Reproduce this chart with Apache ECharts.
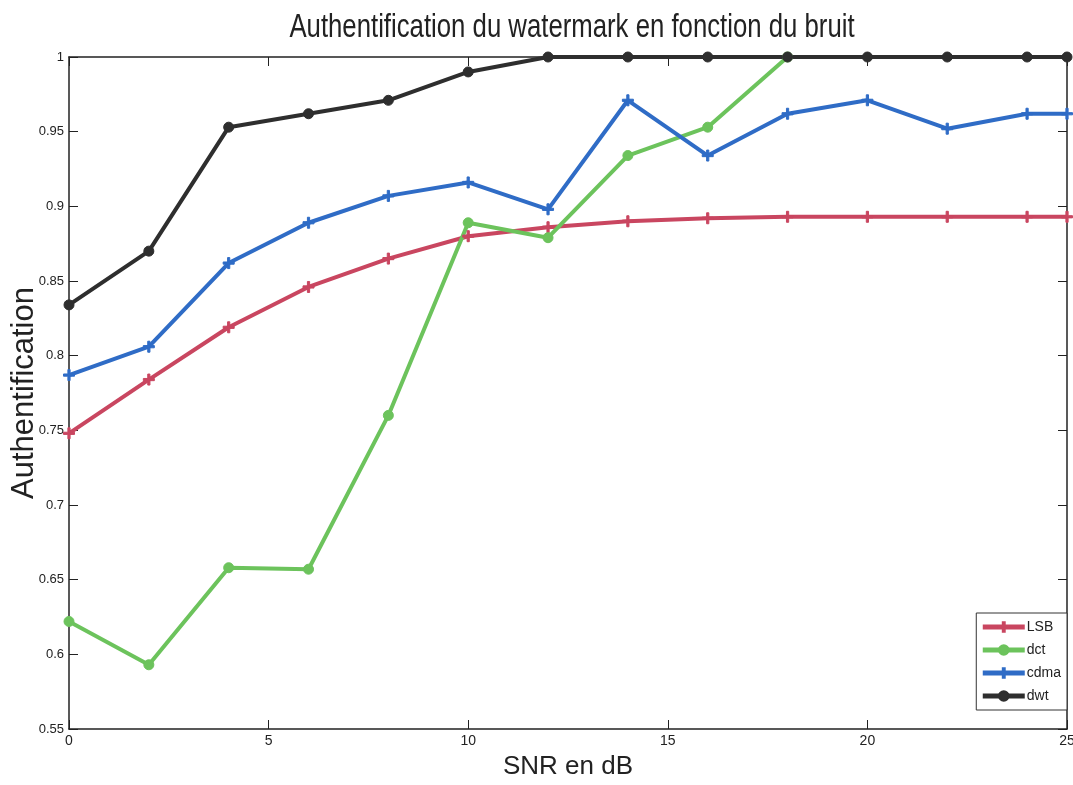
<!DOCTYPE html>
<html>
<head>
<meta charset="utf-8">
<title>Authentification du watermark en fonction du bruit</title>
<script src="https://cdn.jsdelivr.net/npm/echarts@6/dist/echarts.min.js"></script>
<style>
  html, body { margin: 0; padding: 0; background: #ffffff; }
  #chart { width: 1073px; height: 785px; }
</style>
</head>
<body>
<div id="chart"></div>
<script>
// SNR values (dB) at which each method was evaluated
const snr = [0, 2, 4, 6, 8, 10, 12, 14, 16, 18, 20, 22, 24, 25];

// Authentication rate per watermarking method
const lsb  = [0.748, 0.784, 0.819, 0.846, 0.865, 0.880, 0.886, 0.890, 0.892, 0.893, 0.893, 0.893, 0.893, 0.893];
const dct  = [0.622, 0.593, 0.658, 0.657, 0.760, 0.889, 0.879, 0.934, 0.953, 1.000];
const cdma = [0.787, 0.806, 0.862, 0.889, 0.907, 0.916, 0.898, 0.971, 0.934, 0.962, 0.971, 0.952, 0.962, 0.962];
const dwt  = [0.834, 0.870, 0.953, 0.962, 0.971, 0.990, 1.000, 1.000, 1.000, 1.000, 1.000, 1.000, 1.000, 1.000];

const seriesNames = ['LSB', 'dct', 'cdma', 'dwt'];
const xTicks = [0, 5, 10, 15, 20, 25];
const chartTitle = 'Authentification du watermark en fonction du bruit';

const pairs = (vals) => vals.map((v, i) => [snr[i], v]);

const plus = 'path://M4,0 L6,0 L6,4 L10,4 L10,6 L6,6 L6,10 L4,10 L4,6 L0,6 L0,4 L4,4 Z';
const sans = '"Liberation Sans", Arial, sans-serif';
const axisColor = '#222222';

const chart = echarts.init(document.getElementById('chart'), null, { renderer: 'canvas' });

function lineSeries(name, vals, color, symbol, size, width) {
  return {
    name: name,
    type: 'line',
    data: pairs(vals),
    symbol: symbol,
    symbolSize: size,
    clip: true,
    lineStyle: { color: color, width: width },
    itemStyle: { color: color, borderColor: color, borderWidth: 1 },
    emphasis: { disabled: true },
    z: 3
  };
}

const option = {
  backgroundColor: '#ffffff',
  animation: false,
  // condensed title drawn as a horizontally scaled text element
  graphic: [
    {
      type: 'text',
      x: 572,
      y: 28,
      scaleX: 0.78,
      style: {
        text: chartTitle,
        font: '33px "Liberation Sans", Arial, sans-serif',
        fill: '#222',
        textAlign: 'center',
        textVerticalAlign: 'middle'
      }
    }
  ],
  legend: {
    data: seriesNames,
    orient: 'vertical',
    right: 6,
    top: 613,
    padding: [7, 6, 7, 4],
    itemGap: 9,
    itemWidth: 42,
    itemHeight: 12,
    backgroundColor: '#ffffff',
    borderColor: '#333',
    borderWidth: 1,
    borderRadius: 0,
    lineStyle: { width: 5 },
    textStyle: { fontFamily: sans, fontSize: 14, color: '#222', padding: [0, 0, 0, -3] }
  },
  grid: { left: 69, right: 6, top: 57, bottom: 56, containLabel: false, outerBoundsMode: 'none' },
  xAxis: [
    {
      type: 'value', min: 0, max: 25, interval: 5,
      name: 'SNR en dB', nameLocation: 'middle', nameGap: 25, nameMoveOverlap: false,
      nameTextStyle: { fontFamily: sans, fontSize: 26, color: '#222' },
      axisLine: { show: true, onZero: false, lineStyle: { color: axisColor, width: 1.5 } },
      axisTick: { show: true, inside: true, length: 9, lineStyle: { color: axisColor } },
      axisLabel: {
        fontFamily: sans, fontSize: 14, color: '#222', margin: 5,
        formatter: (v) => xTicks.includes(v) ? String(v) : ''
      },
      splitLine: { show: false }
    },
    {
      type: 'value', min: 0, max: 25, interval: 5, position: 'top',
      axisLine: { show: true, onZero: false, lineStyle: { color: axisColor, width: 1.5 } },
      axisTick: { show: true, inside: true, length: 9, lineStyle: { color: axisColor } },
      axisLabel: { show: false },
      splitLine: { show: false }
    }
  ],
  yAxis: [
    {
      type: 'value', min: 0.55, max: 1, interval: 0.05,
      name: 'Authentification', nameLocation: 'middle', nameGap: 29, nameRotate: 90, nameMoveOverlap: false,
      nameTextStyle: { fontFamily: sans, fontSize: 31, color: '#222' },
      axisLine: { show: true, onZero: false, lineStyle: { color: axisColor, width: 1.5 } },
      axisTick: { show: true, inside: true, length: 9, lineStyle: { color: axisColor } },
      axisLabel: {
        fontFamily: sans, fontSize: 13, color: '#222', margin: 5,
        formatter: (v) => String(Math.round(v * 100) / 100)
      },
      splitLine: { show: false }
    },
    {
      type: 'value', min: 0.55, max: 1, interval: 0.05, position: 'right',
      axisLine: { show: true, onZero: false, lineStyle: { color: axisColor, width: 1.5 } },
      axisTick: { show: true, inside: true, length: 9, lineStyle: { color: axisColor } },
      axisLabel: { show: false },
      splitLine: { show: false }
    }
  ],
  series: [
    lineSeries('LSB',  lsb,  '#c94660', plus,     11, 4),
    lineSeries('dct',  dct,  '#6cc35c', 'circle', 10, 4),
    lineSeries('cdma', cdma, '#2f6cc6', plus,     11, 4),
    lineSeries('dwt',  dwt,  '#2e2e2e', 'circle', 10, 4)
  ]
};

chart.setOption(option);
</script>
</body>
</html>
